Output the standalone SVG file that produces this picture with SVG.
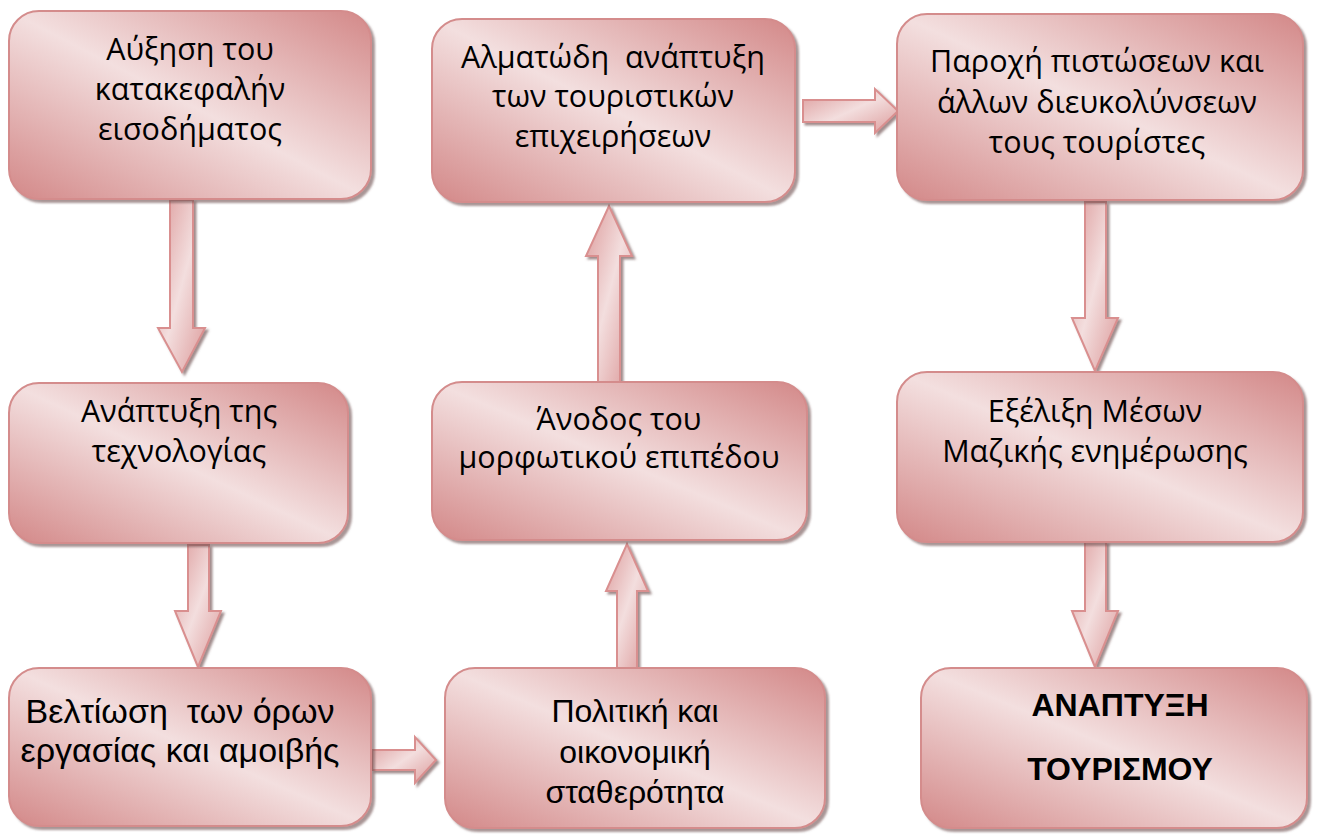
<svg xmlns="http://www.w3.org/2000/svg" width="1318" height="835" viewBox="0 0 1318 835">
<style>
.box{fill:url(#bg);stroke:#d48c8c;stroke-width:2;filter:url(#sh)}
.arr{fill:url(#ag);stroke:#d98f8f;stroke-width:2;stroke-linejoin:miter;filter:url(#sha)}
.s{font-family:"Open Sans","Noto Sans","DejaVu Sans",sans-serif;font-size:30.5px;fill:#000;text-anchor:middle}
.a{font-family:"Liberation Sans",Arial,sans-serif;font-size:32px;fill:#000;text-anchor:middle}
.a3{font-size:34px}
.b{font-family:"Liberation Sans",Arial,sans-serif;font-size:32px;font-weight:bold;fill:#000;text-anchor:middle}
text{white-space:pre}
</style>
<defs>
<linearGradient id="bg" x1="1" y1="0" x2="0" y2="1">
<stop offset="0" stop-color="#d38888"/>
<stop offset="0.5" stop-color="#f3dfdf"/>
<stop offset="1" stop-color="#d38888"/>
</linearGradient>
<linearGradient id="ag" x1="0" y1="0" x2="1" y2="1">
<stop offset="0" stop-color="#dc9a9a"/>
<stop offset="0.5" stop-color="#f3dede"/>
<stop offset="1" stop-color="#dc9a9a"/>
</linearGradient>
<filter id="sh" x="-5%" y="-5%" width="115%" height="120%">
<feDropShadow dx="3" dy="3" stdDeviation="1.2" flood-color="#6e5050" flood-opacity="0.6"/>
</filter>
<filter id="sha" x="-20%" y="-20%" width="150%" height="150%">
<feDropShadow dx="2.5" dy="2.5" stdDeviation="0.8" flood-color="#6e5050" flood-opacity="0.65"/>
</filter>
</defs>

<g id="connectors">
<path class="arr" d="M170,200 H193 V328 H205 L182,372 L158,328 H170 Z"/>
<path class="arr" d="M188,545 H209 V611 H221 L198,667 L175,611 H188 Z"/>
<path class="arr" d="M372,750 H415 V737 L436,760 L415,783 V770 H372 Z"/>
<path class="arr" d="M617,668 V591 H606 L627,544 L648,591 H637 V668 Z"/>
<path class="arr" d="M598,382 V256 H586 L609,206 L632,256 H620 V382 Z"/>
<path class="arr" d="M803,100 H875 V89 L898,111 L875,133 V122 H803 Z"/>
<path class="arr" d="M1085,202 V318 H1072 L1095,371 L1118,318 H1106 V202 Z"/>
<path class="arr" d="M1085,542 V611 H1072 L1095,667 L1118,611 H1106 V542 Z"/>
</g>

<g id="n1">
<rect class="box" x="9" y="11" width="362" height="188" rx="30"/>
<text class="s" x="190" y="60">Αύξηση του</text>
<text class="s" x="190" y="100">κατακεφαλήν</text>
<text class="s" x="190" y="140">εισοδήματος</text>
</g>
<g id="n2">
<rect class="box" x="9" y="383" width="339" height="160" rx="30"/>
<text class="s" x="179" y="422">Ανάπτυξη της</text>
<text class="s" x="179" y="462">τεχνολογίας</text>
</g>
<g id="n3">
<rect class="box" x="9" y="668" width="362" height="158" rx="30"/>
<text class="a a3" x="180" y="723">Βελτίωση  των όρων</text>
<text class="a a3" x="180" y="762">εργασίας και αμοιβής</text>
</g>
<g id="n4">
<rect class="box" x="445" y="668" width="380" height="160" rx="30"/>
<text class="a" x="635" y="722">Πολιτική και</text>
<text class="a" x="635" y="763">οικονομική</text>
<text class="a" x="635" y="803">σταθερότητα</text>
</g>
<g id="n5">
<rect class="box" x="432" y="382" width="375" height="158" rx="30"/>
<text class="s" x="619" y="430">Άνοδος του</text>
<text class="s" x="619" y="468">μορφωτικού επιπέδου</text>
</g>
<g id="n6">
<rect class="box" x="432" y="19" width="363" height="183" rx="30"/>
<text class="s" x="613" y="68">Αλματώδη  ανάπτυξη</text>
<text class="s" x="613" y="107">των τουριστικών</text>
<text class="s" x="613" y="147">επιχειρήσεων</text>
</g>
<g id="n7">
<rect class="box" x="897" y="14" width="406" height="186" rx="30"/>
<text class="s" x="1097" y="72">Παροχή πιστώσεων και</text>
<text class="s" x="1097" y="113">άλλων διευκολύνσεων</text>
<text class="s" x="1097" y="153">τους τουρίστες</text>
</g>
<g id="n8">
<rect class="box" x="897" y="372" width="406" height="170" rx="30"/>
<text class="s" x="1095" y="422">Εξέλιξη Μέσων</text>
<text class="s" x="1095" y="462">Μαζικής ενημέρωσης</text>
</g>
<g id="n9">
<rect class="box" x="921" y="668" width="386" height="160" rx="30"/>
<text class="b" x="1120" y="716">ΑΝΑΠΤΥΞΗ</text>
<text class="b" x="1120" y="780">ΤΟΥΡΙΣΜΟΥ</text>
</g>
</svg>
